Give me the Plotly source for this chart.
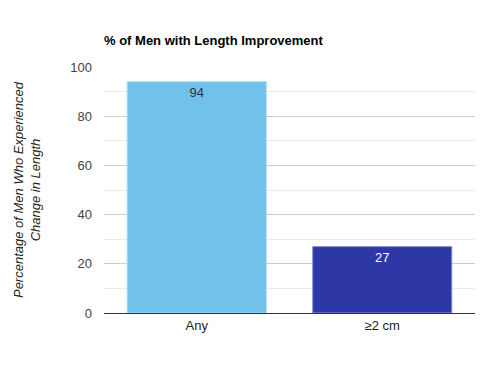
import plotly.graph_objects as go

categories = ["Any", "≥2 cm"]
values = [94, 27]
bar_colors = ["#71C1EB", "#2D37A6"]
label_colors = ["#333333", "#FFFFFF"]
y_ticks = [0, 20, 40, 60, 80, 100]

W, H = 502, 368
OFF = 8  # page offset of the figure

fig = go.Figure()
fig.add_trace(go.Bar(
    x=categories, y=values,
    marker=dict(color=bar_colors, line=dict(color=["#A9DAF3", "#8C92D0"], width=1)),
    text=[str(v) for v in values],
    textposition="inside", insidetextanchor="end",
    textfont=dict(family="Arial", size=13, color=label_colors),
    width=0.75, hoverinfo="skip",
))

fig.update_layout(
    width=W, height=H,
    margin=dict(l=104 - OFF, r=W - 475 + OFF, t=67 - OFF, b=H - 313 + OFF, autoexpand=False),
    paper_bgcolor="white", plot_bgcolor="white",
    font=dict(family="Arial", size=13, color="#444444"),
    showlegend=False,
    title=dict(text="<b>% of Men with Length Improvement</b>", x=(104 - OFF) / W, xanchor="left",
               y=1 - (40 - OFF) / H, yanchor="middle", font=dict(family="Arial", size=13, color="#000000")),
    xaxis=dict(showgrid=False, ticks="", tickfont=dict(size=13, color="#222222"),
               showline=True, linecolor="#333333", linewidth=1, automargin=False),
    yaxis=dict(range=[0, 100], tickvals=y_ticks, gridcolor="#CCCCCC", gridwidth=1,
               minor=dict(dtick=10, showgrid=True, gridcolor="#EBEBEB"),
               zeroline=True, zerolinecolor="#333333", zerolinewidth=1, automargin=False,
               tickfont=dict(size=13, color="#444444"), ticklabelstandoff=11,
               title=dict(text="<i>Percentage of Men Who Experienced<br>Change in Length</i>",
                          font=dict(size=13, color="#222222"), standoff=26)),
    bargap=0.25,
)

fig.write_html("out.html")
